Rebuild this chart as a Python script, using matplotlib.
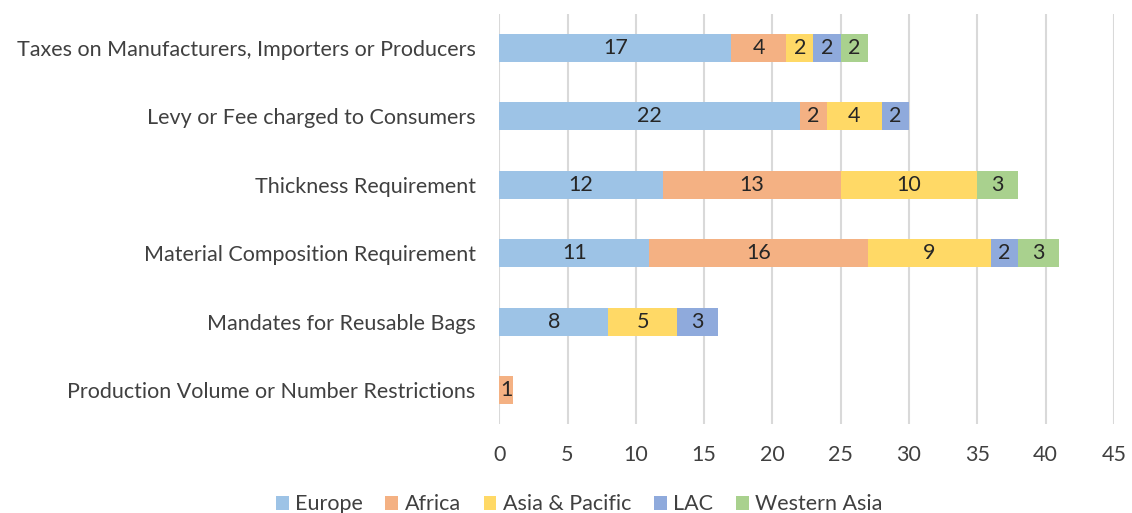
import matplotlib.pyplot as plt
import numpy as np

plt.rcParams['font.family'] = ['Lato', 'DejaVu Sans']

categories = [
    "Taxes on Manufacturers, Importers or Producers",
    "Levy or Fee charged to Consumers",
    "Thickness Requirement",
    "Material Composition Requirement",
    "Mandates for Reusable Bags",
    "Production Volume or Number Restrictions",
]
regions = ["Europe", "Africa", "Asia & Pacific", "LAC", "Western Asia"]
europe = [17, 22, 12, 11, 8, 0]
africa = [4, 2, 13, 16, 0, 1]
asia_pacific = [2, 4, 10, 9, 5, 0]
lac = [2, 2, 0, 2, 3, 0]
western_asia = [2, 0, 3, 3, 0, 0]
colors = ["#9DC3E6", "#F4B183", "#FFD966", "#8FAADC", "#A9D18E"]

text_color = "#404040"
fs = 15.5

fig = plt.figure(figsize=(11.32, 5.13), dpi=100)
ax = fig.add_axes([0.441, 0.173, 0.543, 0.8])

y = np.arange(len(categories))
left = np.zeros(len(categories))
for name, vals, col in zip(regions, [europe, africa, asia_pacific, lac, western_asia], colors):
    vals = np.array(vals, dtype=float)
    bars = ax.barh(y, vals, left=left, height=0.41, color=col, label=name, zorder=3)
    for b, v in zip(bars, vals):
        if v > 0:
            ax.text(b.get_x() + b.get_width() / 2, b.get_y() + b.get_height() / 2,
                    f"{int(v)}", ha="center", va="center", fontsize=fs,
                    color="#262626", zorder=4)
    left += vals

ax.set_xlim(0, 45)
ax.set_ylim(len(categories) - 0.5, -0.5)
ax.set_xticks(range(0, 46, 5))
ax.set_yticks(y)
ax.set_yticklabels(categories)
ax.tick_params(axis="both", length=0, labelsize=fs, colors=text_color)
ax.tick_params(axis="y", pad=17)
ax.tick_params(axis="x", pad=15)
ax.grid(axis="x", color="#D9D9D9", linewidth=1.5, zorder=0)
for s in ax.spines.values():
    s.set_visible(False)

ax.legend(loc="upper center", bbox_to_anchor=(0.13, -0.15), ncol=5, frameon=False,
          fontsize=fs, handlelength=0.6, handleheight=0.6, columnspacing=1.05,
          handletextpad=0.3, labelcolor=text_color, borderaxespad=0)

fig.savefig("out.png", dpi=100)
